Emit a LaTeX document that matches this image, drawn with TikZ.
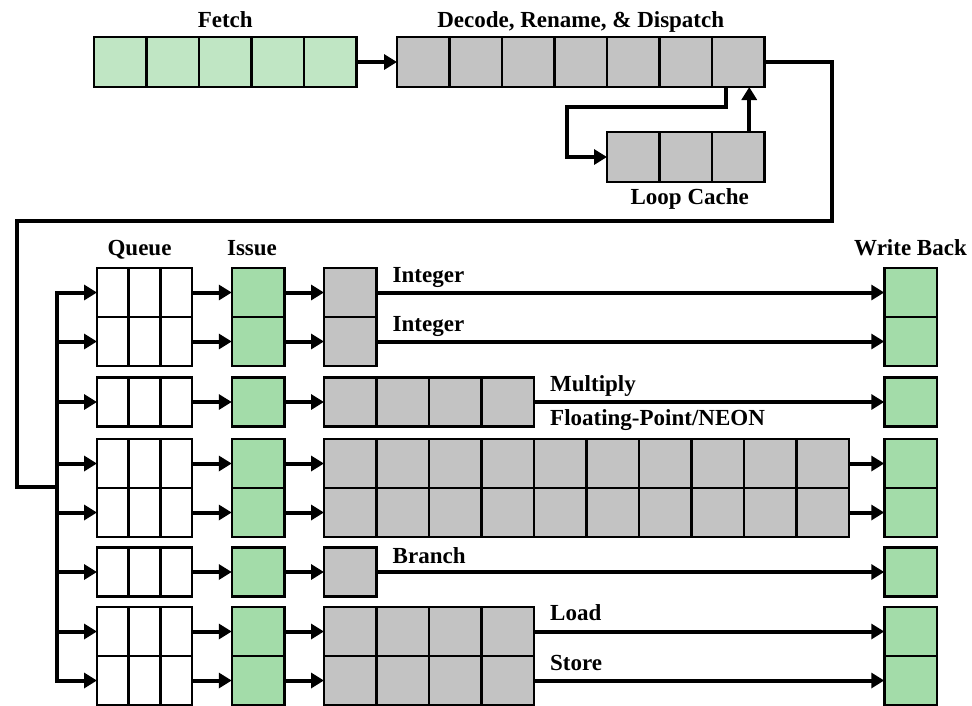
\documentclass[tikz,border=0pt]{standalone}
\usepackage{fontspec}
\setmainfont{Liberation Serif}
\usetikzlibrary{arrows.meta,calc,positioning}

\definecolor{fetchgreen}{RGB}{192,230,196}
\definecolor{unitgreen}{RGB}{163,220,169}
\definecolor{stagegray}{RGB}{195,195,195}

\tikzset{
  cell/.style={draw,line width=2.5pt,minimum width=52.5pt,minimum height=49pt,inner sep=0pt,outer sep=0pt},
  qcell/.style={cell,minimum width=31.7pt,fill=white},
  wire/.style={line width=4pt},
  flow/.style={wire,-{Triangle[length=13pt,width=15pt]}},
  lbl/.style={font=\bfseries\fontsize{23}{26}\selectfont,inner sep=0pt},
}

\begin{document}
\begin{tikzpicture}[x=1pt,y=-1pt]
  \useasboundingbox (0,0) rectangle (972,705);

  \foreach \k in {1,...,5}
    \node[cell,minimum height=50pt,fill=fetchgreen] (f\k) at ({94+52.5*(\k-0.5)},62) {};
  \foreach \k in {1,...,7}
    \node[cell,minimum height=50pt,fill=stagegray] (d\k) at ({397+52.5*(\k-0.5)},62) {};
  \foreach \k in {1,2,3}
    \node[cell,minimum height=50pt,fill=stagegray] (lc\k) at ({607+52.5*(\k-0.5)},157) {};

  \node[lbl,anchor=base] at ([yshift=10pt]f3.north) {Fetch};
  \node[lbl,anchor=base] at ($(d1.north)!0.5!(d7.north)+(0,-10)$) {Decode, Rename, \& Dispatch};
  \node[lbl,anchor=base] at ([xshift=4pt,yshift=-22pt]lc2.south) {Loop Cache};

  \draw[flow] (f5) -- (d1);
  \coordinate (loopturn) at (567,107);
  \draw[flow] ([xshift=-12pt]d7.south) |- (loopturn) |- (lc1.west);
  \draw[flow] ([xshift=11pt]lc3.north) -- ([xshift=11pt]d7.south);

  \foreach \row/\yy/\nex in {1/292.5/1,2/341.5/1,3/402/4,4/463.5/10,5/512.5/10,6/572/1,7/631.5/4,8/680.5/4} {
    \coordinate (bus\row) at (57,\yy);
    \foreach \k in {1,2,3}
      \node[qcell] (q\row-\k) at ({97+31.7*(\k-0.5)},\yy) {};
    \node[cell,fill=unitgreen] (is\row) at (258,\yy) {};
    \foreach \k in {1,...,\nex}
      \node[cell,fill=stagegray] (ex\row-\k) at ({324+52.5*(\k-0.5)},\yy) {};
    \node[cell,fill=unitgreen] (wb\row) at (910.5,\yy) {};
    \draw[flow] (bus\row) -- (q\row-1.west);
    \draw[flow] (q\row-3) -- (is\row);
    \draw[flow] (is\row) -- (ex\row-1);
    \draw[flow] (ex\row-\nex) -- (wb\row);
  }

  \node[lbl,anchor=base] at ([xshift=-5pt,yshift=13pt]q1-2.north) {Queue};
  \node[lbl,anchor=base] at ([xshift=-6pt,yshift=13pt]is1.north) {Issue};
  \node[lbl,anchor=base] at ([yshift=13pt]wb1.north) {Write Back};

  \node[lbl,anchor=base west] at ([xshift=16pt,yshift=10pt]ex1-1.east) {Integer};
  \node[lbl,anchor=base west] at ([xshift=16pt,yshift=10pt]ex2-1.east) {Integer};
  \node[lbl,anchor=base west] at ([xshift=16pt,yshift=11pt]ex3-4.east) {Multiply};
  \node[lbl,anchor=base west] at ([xshift=16pt,yshift=-23pt]ex3-4.east) {Floating-Point/NEON};
  \node[lbl,anchor=base west] at ([xshift=16pt,yshift=9pt]ex6-1.east) {Branch};
  \node[lbl,anchor=base west] at ([xshift=16pt,yshift=11pt]ex7-4.east) {Load};
  \node[lbl,anchor=base west] at ([xshift=16pt,yshift=10pt]ex8-4.east) {Store};

  \coordinate (wrapr) at (832,221);
  \coordinate (wrapl) at (17,487);
  \draw[wire] (d7.east) -| (wrapr) -| (wrapl) -- (57,487);
  \draw[wire,line cap=rect] (bus1) -- (bus8);
\end{tikzpicture}
\end{document}
